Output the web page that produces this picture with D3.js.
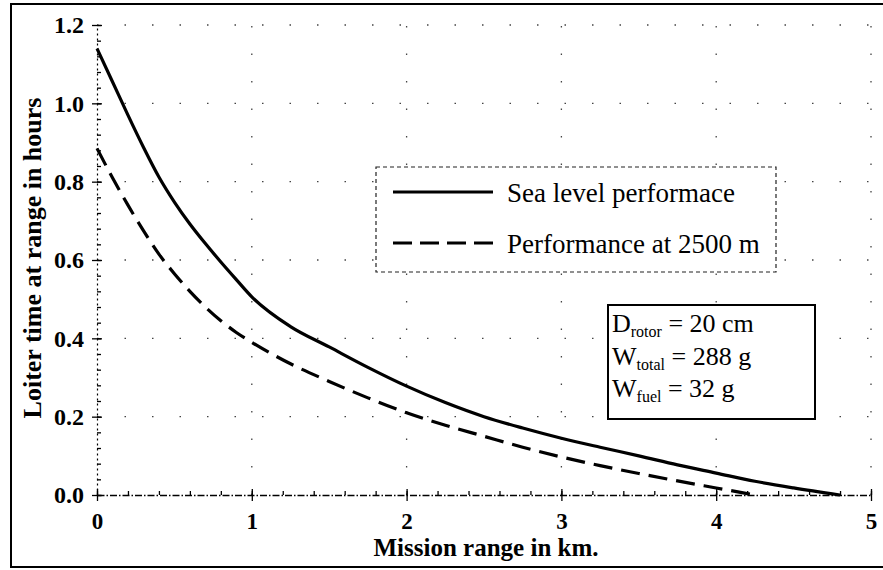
<!DOCTYPE html>
<html>
<head>
<meta charset="utf-8">
<script src="https://cdn.jsdelivr.net/npm/d3@7/dist/d3.min.js"></script>
<style>
  html, body { margin: 0; padding: 0; background: #fff; }
  svg { display: block; }
  text { font-family: "Liberation Serif", "Times New Roman", serif; fill: #000; }
</style>
</head>
<body>
<svg id="chart" width="883" height="570"></svg>
<script>
// Mission range (km) and loiter time (h), sea level
const rangeSea  = [0, 0.1, 0.2, 0.3, 0.4, 0.5, 0.6, 0.7, 0.8, 0.9, 1.0, 1.25, 1.5, 1.75, 2.0, 2.25, 2.5, 2.75, 3.0, 3.25, 3.5, 3.75, 4.0, 4.25, 4.5, 4.8];
const loiterSea = [1.14, 1.055, 0.97, 0.888, 0.812, 0.748, 0.692, 0.642, 0.595, 0.55, 0.506, 0.43, 0.378, 0.326, 0.278, 0.236, 0.2, 0.171, 0.145, 0.122, 0.10, 0.077, 0.056, 0.035, 0.018, 0.0];

// Mission range (km) and loiter time (h), 2500 m altitude
const rangeAlt  = [0, 0.1, 0.2, 0.3, 0.4, 0.5, 0.6, 0.7, 0.8, 0.9, 1.0, 1.25, 1.5, 1.75, 2.0, 2.25, 2.5, 2.75, 3.0, 3.25, 3.5, 3.75, 4.0, 4.25];
const loiterAlt = [0.885, 0.81, 0.74, 0.675, 0.615, 0.565, 0.52, 0.48, 0.445, 0.415, 0.39, 0.335, 0.29, 0.248, 0.21, 0.178, 0.15, 0.122, 0.097, 0.075, 0.055, 0.036, 0.018, 0.0];

const xTicks = [0, 1, 2, 3, 4, 5];
const yTicks = [0.0, 0.2, 0.4, 0.6, 0.8, 1.0, 1.2];
const legendLabels = ["Sea level performace", "Performance at 2500 m"];
const specRows = [
  { sym: "D", sub: "rotor", rest: " = 20 cm" },
  { sym: "W", sub: "total", rest: " = 288 g" },
  { sym: "W", sub: "fuel",  rest: " = 32 g" }
];
const xTitle = "Mission range in km.";
const yTitle = "Loiter time at range in hours";

const svg = d3.select("#chart");

const x = d3.scaleLinear().domain([0, 5]).range([97, 871]);
const y = d3.scaleLinear().domain([0, 1.2]).range([495, 25]);

// outer frame (right edge runs past the page edge)
svg.append("rect")
  .attr("x", 11).attr("y", 4)
  .attr("width", 880).attr("height", 563)
  .attr("fill", "none").attr("stroke", "#000").attr("stroke-width", 2);

// sparse dotted grid
const grid = svg.append("g").attr("stroke", "#444").attr("stroke-width", 1.3)
  .attr("stroke-dasharray", "1.5,26").attr("fill", "none");
grid.selectAll("line.h").data(yTicks.filter(d => d > 0)).join("line")
  .attr("class", "h")
  .attr("x1", x(0)).attr("x2", x(5))
  .attr("y1", d => y(d)).attr("y2", d => y(d));
grid.selectAll("line.v").data(xTicks.filter(d => d > 0)).join("line")
  .attr("class", "v")
  .attr("x1", d => x(d)).attr("x2", d => x(d))
  .attr("y1", y(0)).attr("y2", y(1.2));

// minor ticks
const yMinor = d3.range(0, 1.2001, 0.04).map(v => +v.toFixed(2));
const xMinor = d3.range(0, 5.0001, 0.2).map(v => +v.toFixed(1));

const yMinorAxis = svg.append("g").attr("transform", `translate(${x(0)},0)`)
  .call(d3.axisLeft(y).tickValues(yMinor).tickSize(-4).tickFormat(""));
yMinorAxis.select(".domain").remove();

const xMinorAxis = svg.append("g").attr("transform", `translate(0,${y(0)})`)
  .call(d3.axisBottom(x).tickValues(xMinor).tickSize(-4).tickFormat(""));
xMinorAxis.select(".domain").remove();

// major ticks crossing the axes, inner half
const yInner = svg.append("g").attr("transform", `translate(${x(0)},0)`)
  .call(d3.axisLeft(y).tickValues(yTicks).tickSize(-5).tickFormat(""));
yInner.select(".domain").remove();
const xInner = svg.append("g").attr("transform", `translate(0,${y(0)})`)
  .call(d3.axisBottom(x).tickValues(xTicks).tickSize(-6).tickFormat(""));
xInner.select(".domain").remove();

// labelled axes
const yAxis = svg.append("g").attr("transform", `translate(${x(0)},0)`)
  .call(d3.axisLeft(y).tickValues(yTicks).tickSize(5).tickPadding(8)
    .tickSizeOuter(0).tickFormat(d3.format(".1f")));
yAxis.select(".domain").attr("stroke-dasharray", "2,3").attr("stroke-width", 1.2);

const xAxis = svg.append("g").attr("transform", `translate(0,${y(0)})`)
  .call(d3.axisBottom(x).tickValues(xTicks).tickSize(6).tickPadding(12)
    .tickSizeOuter(0).tickFormat(d3.format("d")));
xAxis.select(".domain").attr("stroke-dasharray", "7,2,1.5,2").attr("stroke-width", 1.3);

svg.selectAll(".tick line").attr("stroke", "#000").attr("stroke-width", 1.3);
yAxis.selectAll(".tick text")
  .style("font-family", '"Liberation Serif", "Times New Roman", serif')
  .style("font-size", "24px").style("font-weight", "bold");
xAxis.selectAll(".tick text")
  .style("font-family", '"Liberation Serif", "Times New Roman", serif')
  .style("font-size", "23px").style("font-weight", "bold");

// axis titles
svg.append("text")
  .attr("x", 486).attr("y", 556)
  .attr("text-anchor", "middle")
  .style("font-size", "25px").style("font-weight", "bold")
  .text(xTitle);

svg.append("text")
  .attr("transform", "translate(41,258) rotate(-90)")
  .attr("text-anchor", "middle")
  .style("font-size", "26px").style("font-weight", "bold")
  .text(yTitle);

// performance curves
const line = d3.line()
  .x(d => x(d[0]))
  .y(d => y(d[1]))
  .curve(d3.curveMonotoneX);

svg.append("path")
  .datum(d3.zip(rangeSea, loiterSea))
  .attr("d", line)
  .attr("fill", "none").attr("stroke", "#000").attr("stroke-width", 3.2)
  .attr("stroke-linejoin", "round");

svg.append("path")
  .datum(d3.zip(rangeAlt, loiterAlt))
  .attr("d", line)
  .attr("fill", "none").attr("stroke", "#000").attr("stroke-width", 3.2)
  .attr("stroke-dasharray", "19,9");

// legend
const legend = svg.append("g");
legend.append("rect")
  .attr("x", 376).attr("y", 167).attr("width", 400).attr("height", 105)
  .attr("fill", "#fff").attr("stroke", "#222").attr("stroke-width", 1.2)
  .attr("stroke-dasharray", "4,3");
const legendY = [192, 243];
legend.selectAll("line.key").data(legendLabels).join("line")
  .attr("class", "key")
  .attr("x1", 393).attr("x2", 493)
  .attr("y1", (d, i) => legendY[i]).attr("y2", (d, i) => legendY[i])
  .attr("stroke", "#000").attr("stroke-width", 3)
  .attr("stroke-dasharray", (d, i) => i === 0 ? null : "19,8");
legend.selectAll("text").data(legendLabels).join("text")
  .attr("x", 507).attr("y", (d, i) => legendY[i] + 10)
  .style("font-size", "27px")
  .text(d => d);

// specification box
const spec = svg.append("g");
spec.append("rect")
  .attr("x", 608).attr("y", 305).attr("width", 207).attr("height", 114)
  .attr("fill", "#fff").attr("stroke", "#000").attr("stroke-width", 2);
const specY = [332, 365, 397];
specRows.forEach((r, i) => {
  const t = spec.append("text").attr("x", 612).attr("y", specY[i])
    .style("font-size", "26px");
  t.append("tspan").text(r.sym);
  t.append("tspan").attr("dy", 5).style("font-size", "16px").text(r.sub);
  t.append("tspan").attr("dy", -5).text(r.rest);
});
</script>
</body>
</html>
